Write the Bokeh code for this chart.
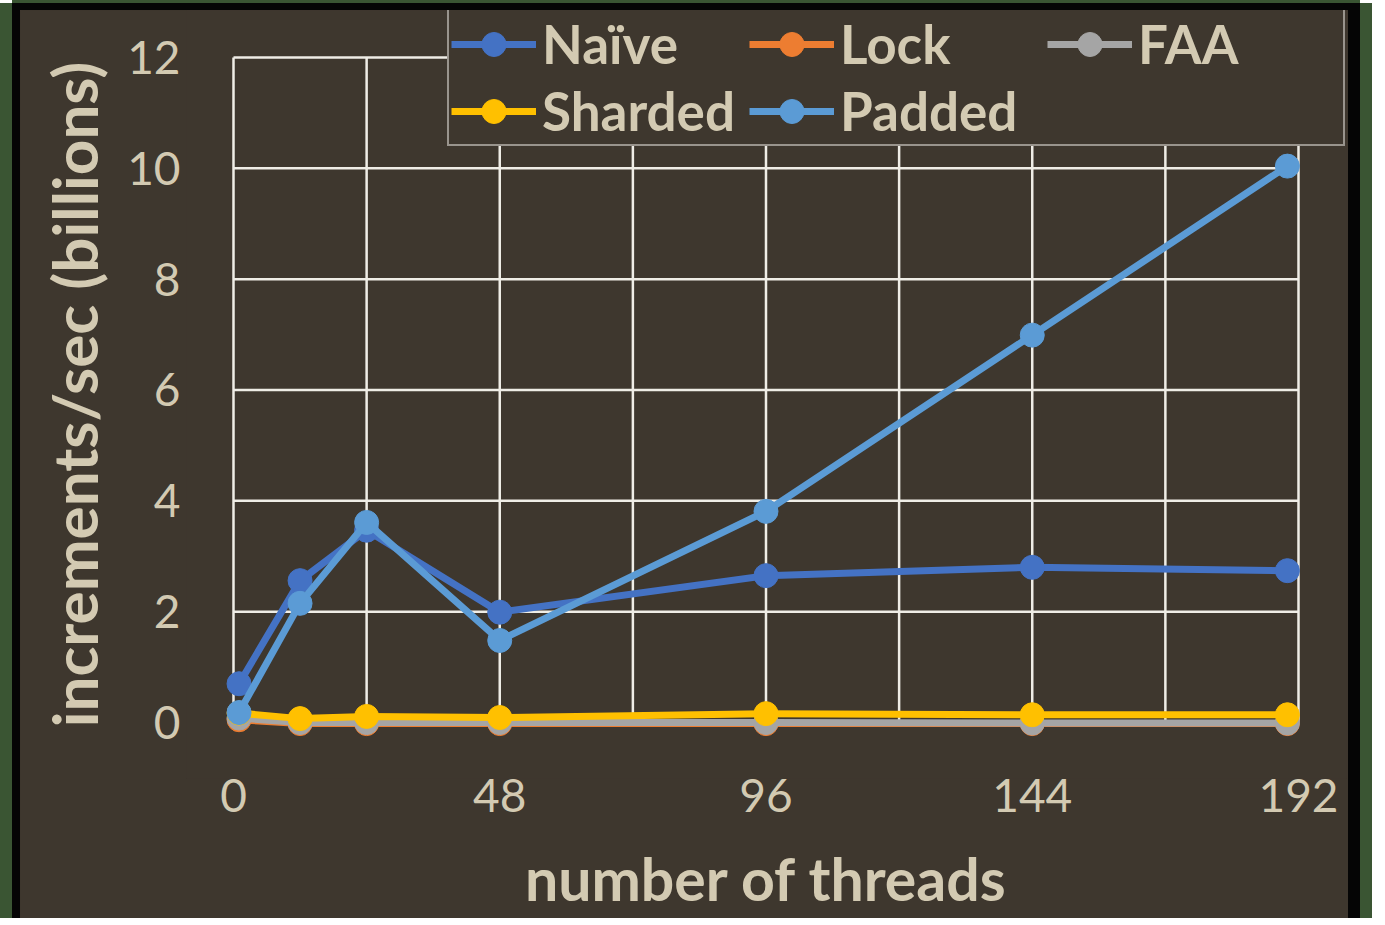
from bokeh.plotting import figure
from bokeh.models import FixedTicker, Legend, LegendItem, Range1d
from bokeh.embed import file_html
from bokeh.resources import INLINE

threads = [1, 12, 24, 48, 96, 144, 190]
naive = [0.70, 2.56, 3.47, 1.99, 2.65, 2.80, 2.74]
lock = [0.05, -0.02, -0.02, -0.02, -0.02, -0.02, -0.02]
faa = [0.08, 0.0, 0.0, 0.0, 0.0, -0.01, -0.01]
sharded = [0.17, 0.07, 0.11, 0.09, 0.16, 0.14, 0.14]
padded = [0.18, 2.15, 3.61, 1.48, 3.81, 6.99, 10.04]

series_names = ["Naïve", "Lock", "FAA", "Sharded", "Padded"]
series_values = [naive, lock, faa, sharded, padded]
series_colors = ["#4472C4", "#ED7D31", "#A5A5A5", "#FFC000", "#5B9BD5"]

x_ticks = [0, 48, 96, 144, 192]
x_grid = [0, 24, 48, 72, 96, 120, 144, 168, 192]
y_ticks = [0, 2, 4, 6, 8, 10, 12]

BG = "#3e372e"
TXT = "#d3cab2"
GRID = "#efede6"
GREEN = "#3a5533"

p = figure(width=1348, height=915, output_backend="svg", toolbar_location=None,
           x_range=Range1d(-8.473, 200.654), y_range=Range1d(-1.0105, 12.848),
           min_border_left=166, min_border_right=22, min_border_top=0, min_border_bottom=147)
p.styles = {"margin": "3px 5px 0px 12px",
            "background-color": BG,
            "border-style": "solid", "border-color": "#050505",
            "border-width": "7px 12px 0px 8px",
            "box-shadow": f"-12px 0 0 0 {GREEN}, 12px 0 0 0 {GREEN}, 0 -12px 0 0 {GREEN}"}
p.background_fill_color = BG
p.border_fill_color = BG
p.outline_line_color = None
p.xgrid.visible = False
p.ygrid.visible = False

# grid lines drawn from the tick lists, limited to the data box
x0, x1 = x_grid[0], x_grid[-1]
y0, y1 = y_ticks[0], y_ticks[-1]
p.segment(x0=x_grid, y0=[y0] * len(x_grid), x1=x_grid, y1=[y1] * len(x_grid),
          line_color=GRID, line_width=2.5)
p.segment(x0=[x0] * len(y_ticks), y0=y_ticks, x1=[x1] * len(y_ticks), y1=y_ticks,
          line_color=GRID, line_width=2.5)

p.xaxis.ticker = FixedTicker(ticks=x_ticks)
p.yaxis.ticker = FixedTicker(ticks=y_ticks)

for ax in (p.xaxis, p.yaxis):
    ax.axis_line_color = None
    ax.major_tick_line_color = None
    ax.minor_tick_line_color = None
    ax.major_tick_out = 0
    ax.major_tick_in = 0
    ax.major_label_text_font = "Lato"
    ax.major_label_text_font_size = "46px"
    ax.major_label_text_color = TXT
    ax.axis_label_text_font = "Lato"
    ax.axis_label_text_font_style = "bold"
    ax.axis_label_text_color = TXT

p.xaxis.axis_label = "number of threads"
p.yaxis.axis_label = "increments/sec (billions)"
p.xaxis.axis_label_text_font_size = "59px"
p.yaxis.axis_label_text_font_size = "62px"
p.xaxis.major_label_standoff = 0
p.yaxis.major_label_standoff = 6
p.xaxis.axis_label_standoff = 28
p.yaxis.axis_label_standoff = 13

items = []
for name, vals, col in zip(series_names, series_values, series_colors):
    r1 = p.line(threads, vals, line_color=col, line_width=7)
    r2 = p.scatter(threads, vals, size=24, fill_color=col, line_color=col)
    items.append(LegendItem(label=name, renderers=[r1, r2]))

legend = Legend(items=items, location=(261, 632), orientation="horizontal", ncols=3)
legend.label_text_font = "Lato"
legend.label_text_font_style = "bold"
legend.label_text_font_size = "53px"
legend.label_text_color = TXT
legend.label_width = 203
legend.label_height = 20
legend.label_standoff = 6
legend.glyph_width = 85
legend.glyph_height = 60
legend.spacing = 4
legend.padding = 2
legend.margin = 0
legend.background_fill_color = BG
legend.background_fill_alpha = 1
legend.border_line_color = "#f4f2ec"
legend.border_line_width = 2.5
p.add_layout(legend, "center")

open("out.html", "w").write(file_html(p, INLINE))
